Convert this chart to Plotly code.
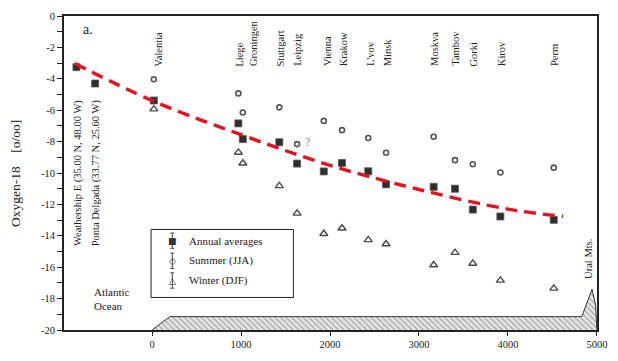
import plotly.graph_objects as go

# ---------------- data ----------------
stations = ["Weathership E", "Ponta Delgada", "Valentia", "Liege", "Groningen",
            "Stuttgart", "Leipzig", "Vienna", "Krakow", "L'vov", "Minsk",
            "Moskva", "Tambov", "Gorki", "Kirov", "Perm"]
distance = [-850, -640, 20, 970, 1020, 1430, 1630, 1930, 2135, 2430, 2630,
            3165, 3405, 3605, 3915, 4515]
annual = [-3.26, -4.30, -5.38, -6.84, -7.84, -8.04, -9.40, -9.90, -9.36, -9.89,
          -10.72, -10.88, -11.00, -12.33, -12.77, -12.98]
# summer / winter only for continental stations (Valentia .. Perm)
seasonal_stations = stations[2:]
seasonal_distance = distance[2:]
summer = [-4.03, -4.93, -6.15, -5.82, -8.16, -6.68, -7.27, -7.77, -8.71,
          -7.69, -9.18, -9.44, -9.97, -9.66]
winter = [-5.93, -8.69, -9.38, -10.82, -12.57, -13.87, -13.52, -14.26, -14.52,
          -15.86, -15.07, -15.76, -16.84, -17.35]

# fitted trend
trend_x = [-870, 0, 1000, 2000, 3000, 4000, 4620]
trend_y = [-3.02, -5.39, -7.56, -9.51, -11.05, -12.30, -12.76]

# terrain profile (elevation sketch along the transect)
terrain_x = [0, 200, 4830, 4945, 4985, 5000]
terrain_y = [-20.0, -19.15, -19.15, -17.40, -18.40, -20.0]

x_ticks = [0, 1000, 2000, 3000, 4000, 5000]
y_ticks = [0, -2, -4, -6, -8, -10, -12, -14, -16, -18, -20]

# label x-shifts (px) for readability of station names
label_shift = {"Valentia": 5, "Groningen": 10, "Vienna": 3, "L'vov": 3}

FONT = "Liberation Serif, Times New Roman, serif"
INK = "#222222"

# plot area geometry (pixels) for paper-coordinate helpers
L, R, T, B = 64, 607, 12, 340
W, H = 618, 361


def px(xp):
    return (xp - L) / (R - L)


def py(yp):
    return (B - yp) / (B - T)


fig = go.Figure()

# terrain
fig.add_trace(go.Scatter(
    x=terrain_x, y=terrain_y, mode="lines", fill="toself",
    line=dict(color="#333333", width=1),
    fillcolor="rgba(0,0,0,0)",
    fillpattern=dict(shape="\\", fgcolor="#6a6a6a", bgcolor="#e8e8e8",
                     size=4, solidity=0.35),
    hoverinfo="skip", showlegend=False))

# winter
fig.add_trace(go.Scatter(
    x=seasonal_distance, y=winter, mode="markers", name="Winter (DJF)",
    marker=dict(symbol="triangle-up-open", size=7, color="#4a4a4a",
                line=dict(width=1.4)),
    text=seasonal_stations, showlegend=False))

# summer
fig.add_trace(go.Scatter(
    x=seasonal_distance, y=summer, mode="markers", name="Summer (JJA)",
    marker=dict(symbol="circle-open", size=5, color="#555555",
                line=dict(width=1.6)),
    text=seasonal_stations, showlegend=False))

# annual
fig.add_trace(go.Scatter(
    x=distance, y=annual, mode="markers", name="Annual averages",
    marker=dict(symbol="square", size=7, color="#2e2e2e",
                line=dict(color="#555555", width=0.8)),
    text=stations, showlegend=False))

# trend
fig.add_trace(go.Scatter(
    x=trend_x, y=trend_y, mode="lines", line_shape="spline",
    line=dict(color="#e8101e", width=3.4, dash="12px,7px"),
    hoverinfo="skip", showlegend=False))

annotations = []
# station labels on top (rotated)
for name, xv in zip(seasonal_stations, seasonal_distance):
    annotations.append(dict(
        x=xv, y=-3.33, xref="x", yref="y", text=name, textangle=-90,
        showarrow=False, xanchor="center", yanchor="bottom",
        xshift=label_shift.get(name, 1),
        font=dict(family=FONT, size=10.5, color=INK)))

# oceanic station labels
ocean_labels = ["Weathership E (35.00 N, 48.00 W)",
                "Ponta Delgada (33.77 N, 25.60 W)"]
for lab, xv in zip(ocean_labels, distance[:2]):
    annotations.append(dict(
        x=xv, y=-5.2, xref="x", yref="y", text=lab, textangle=-90,
        showarrow=False, xanchor="center", yanchor="top", xshift=1,
        font=dict(family=FONT, size=10.5, color=INK)))

annotations += [
    dict(x=px(88), y=py(26), xref="paper", yref="paper", text="a.",
         showarrow=False, xanchor="center", yanchor="middle",
         font=dict(family=FONT, size=14, color=INK)),
    dict(x=px(14), y=py(176), xref="paper", yref="paper",
         text="Oxygen-18\u00a0\u00a0\u00a0\u00a0[o/oo]", textangle=-90,
         showarrow=False, xanchor="center", yanchor="middle",
         font=dict(family=FONT, size=13.5, color=INK)),
    dict(x=-670, y=-18.05, xref="x", yref="y", text="Atlantic<br>Ocean",
         align="left", showarrow=False, xanchor="left", yanchor="middle",
         font=dict(family=FONT, size=11, color=INK)),
    dict(x=4917, y=-15.5, xref="x", yref="y", text="Ural Mts.",
         textangle=-90, showarrow=False, xanchor="center", yanchor="middle",
         xshift=-1, font=dict(family=FONT, size=10.5, color=INK)),
    dict(x=1749, y=-8.0, xref="x", yref="y", text="?", showarrow=False,
         xanchor="center", yanchor="middle",
         font=dict(family=FONT, size=12, color="#888888")),
]

# custom legend box
legend_items = ["Annual averages", "Summer (JJA)", "Winter (DJF)"]
legend_glyphs = ["\u25a0", "\u25c7", "\u25b3"]
legend_rows = [246.7, 267.7, 288.3]
shapes = [dict(type="rect", xref="paper", yref="paper",
               x0=px(152.7), x1=px(297.7), y0=py(306), y1=py(235),
               line=dict(color=INK, width=1), fillcolor="white", layer="below")]
for lab, g, r in zip(legend_items, legend_glyphs, legend_rows):
    annotations.append(dict(
        x=px(189), y=py(r), xref="paper", yref="paper", text=lab,
        showarrow=False, xanchor="left", yanchor="middle",
        font=dict(family=FONT, size=11, color=INK)))
    annotations.append(dict(
        x=px(174.3), y=py(r), xref="paper", yref="paper", text=g,
        showarrow=False, xanchor="center", yanchor="middle",
        font=dict(family="DejaVu Sans", size=9, color="#333333")))
    shapes.append(dict(type="line", xref="paper", yref="paper",
                       x0=px(174.3), x1=px(174.3), y0=py(r - 8), y1=py(r + 8),
                       line=dict(color="#444444", width=1)))
    for cap in (r - 8, r + 8):
        shapes.append(dict(type="line", xref="paper", yref="paper",
                           x0=px(172.3), x1=px(176.3), y0=py(cap), y1=py(cap),
                           line=dict(color="#444444", width=1)))

fig.update_layout(
    width=W, height=H,
    margin=dict(l=L, r=W - R, t=T, b=H - B),
    paper_bgcolor="white", plot_bgcolor="white",
    font=dict(family=FONT, color=INK),
    annotations=annotations, shapes=shapes,
    xaxis=dict(range=[-990, 5001], tickvals=x_ticks,
               ticktext=[str(v) for v in x_ticks],
               showgrid=False, zeroline=False, showline=True, mirror=True,
               linecolor=INK, linewidth=1.6, ticks="outside", ticklen=4,
               tickcolor=INK, tickfont=dict(family=FONT, size=10.5, color=INK)),
    yaxis=dict(range=[-20, 0], tickvals=y_ticks,
               ticktext=[str(v) for v in y_ticks],
               showgrid=False, zeroline=False, showline=True, mirror=True,
               linecolor=INK, linewidth=1.6, ticks="outside", ticklen=5,
               tickcolor=INK, tickfont=dict(family=FONT, size=10.5, color=INK),
               minor=dict(dtick=1, ticks="outside", ticklen=5, tickcolor=INK,
                          showgrid=False)),
)

fig.write_html("out.html")
